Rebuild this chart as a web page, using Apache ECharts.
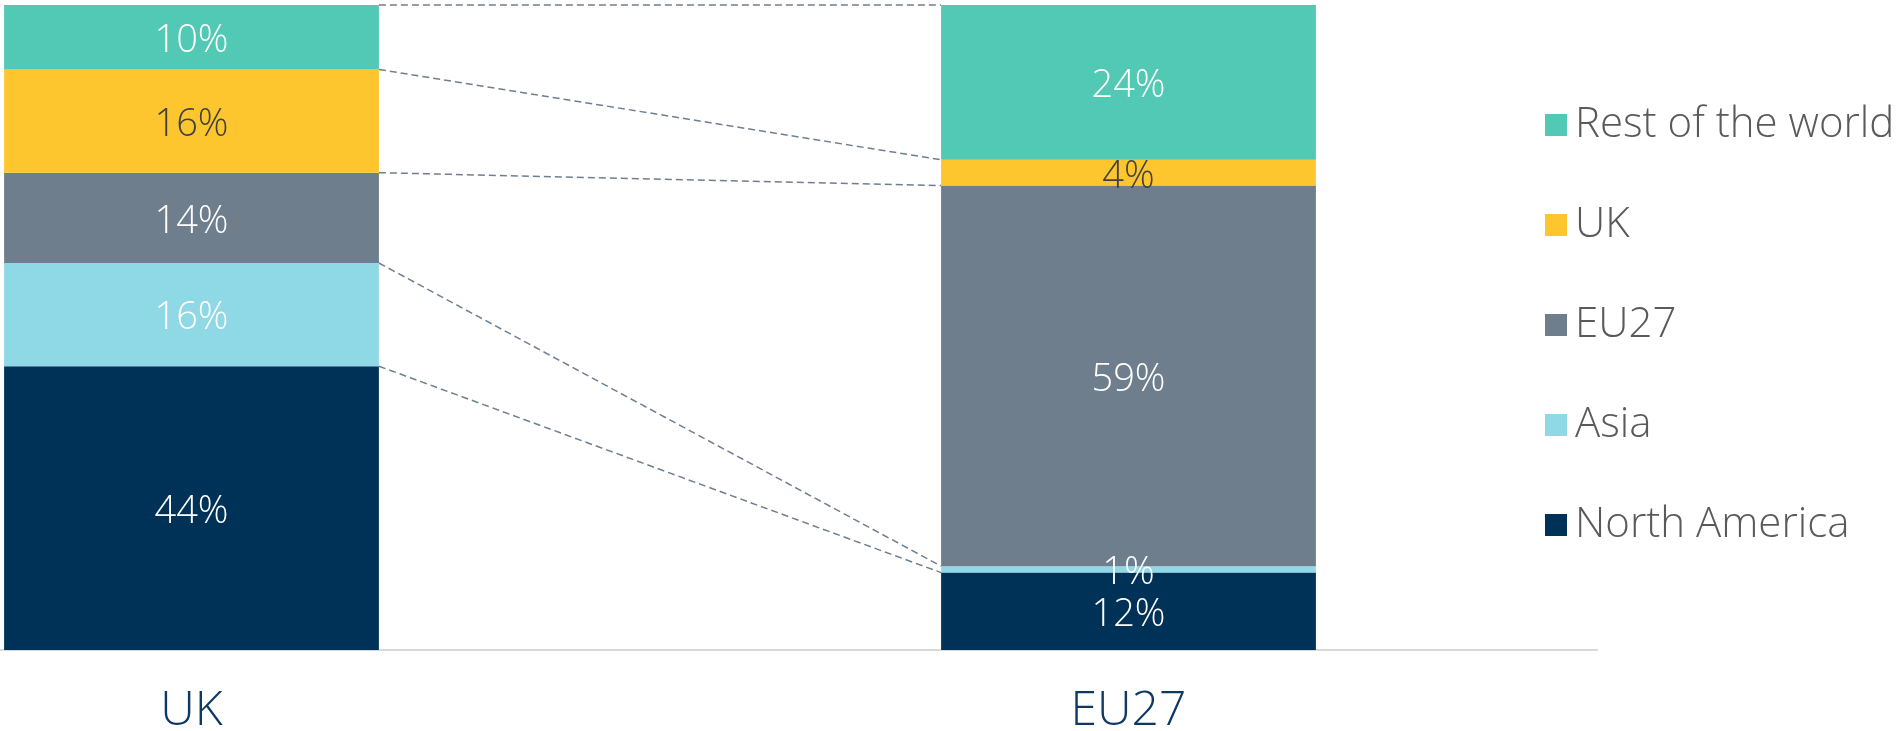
<!DOCTYPE html>
<html><head><meta charset="utf-8">
<script src="https://cdn.jsdelivr.net/npm/echarts@6/dist/echarts.min.js"></script>
<style>html,body{margin:0;padding:0;background:#fff}#c{width:1898px;height:731px}</style>
</head><body><div id="c"></div>
<script>
const categories = ['UK', 'EU27'];
const northAmerica = [44, 12];
const asia = [16, 1];
const eu27 = [14, 59];
const uk = [16, 4];
const restOfWorld = [10, 24];
const seriesNames = ['North America', 'Asia', 'EU27', 'UK', 'Rest of the world'];
const seriesValues = [northAmerica, asia, eu27, uk, restOfWorld];
const colors = ['#003157', '#8fd8e6', '#6e7e8d', '#fdc62e', '#52c9b4'];
const labelColors = ['#ffffff', '#ffffff', '#ffffff', '#404040', '#ffffff'];

// cumulative boundaries for the connector lines
const connectors = [];
let cumA = 0, cumB = 0;
seriesValues.forEach(v => { cumA += v[0]; cumB += v[1]; connectors.push([cumA, cumB]); });

const FONT = '"Open Sans", "Lato", sans-serif';
const chart = echarts.init(document.getElementById('c'));
const barSeries = seriesNames.map((name, i) => ({
  name: name,
  type: 'bar',
  stack: 'total',
  barWidth: '40%',
  data: seriesValues[i],
  itemStyle: { color: colors[i] },
  label: {
    show: true,
    position: 'inside',
    offset: [0, 4],
    formatter: '{c}%',
    color: labelColors[i],
    fontFamily: FONT,
    fontWeight: 300,
    fontSize: 38
  },
  z: 2
}));

chart.setOption({
  animation: false,
  grid: { left: -277, right: 301, top: 5, bottom: 81, containLabel: false, outerBoundsMode: 'none' },
  legend: {
    orient: 'vertical',
    left: 1545,
    top: 104,
    padding: 0,
    itemWidth: 22,
    itemHeight: 22,
    itemGap: 58,
    icon: 'rect',
    data: seriesNames.slice().reverse(),
    textStyle: { fontFamily: FONT, fontWeight: 300, fontSize: 42, lineHeight: 40, color: '#5a5a5a', padding: [0, 0, 0, 3] }
  },
  xAxis: {
    type: 'category',
    data: categories,
    axisLine: { show: true, lineStyle: { color: '#d9d9d9', width: 2 } },
    axisTick: { show: false },
    axisLabel: { color: '#0e3a62', fontFamily: FONT, fontWeight: 300, fontSize: 48, margin: 37 }
  },
  yAxis: { type: 'value', min: 0, max: 100, show: false, splitLine: { show: false } },
  series: barSeries.concat([{
    type: 'custom',
    name: 'connectors',
    data: connectors,
    encode: { x: -1, y: -1 },
    z: 1,
    silent: true,
    renderItem: function (params, api) {
      const a = api.value(0), b = api.value(1);
      const p1 = api.coord([0, a]);
      const p2 = api.coord([1, b]);
      const band = api.size([1, 0])[0];
      const half = band * 0.2;
      return {
        type: 'line',
        shape: { x1: p1[0] + half, y1: p1[1], x2: p2[0] - half, y2: p2[1] },
        style: { stroke: '#6f7f8f', lineWidth: 1.5, lineDash: [7, 4] }
      };
    }
  }])
});
</script></body></html>
